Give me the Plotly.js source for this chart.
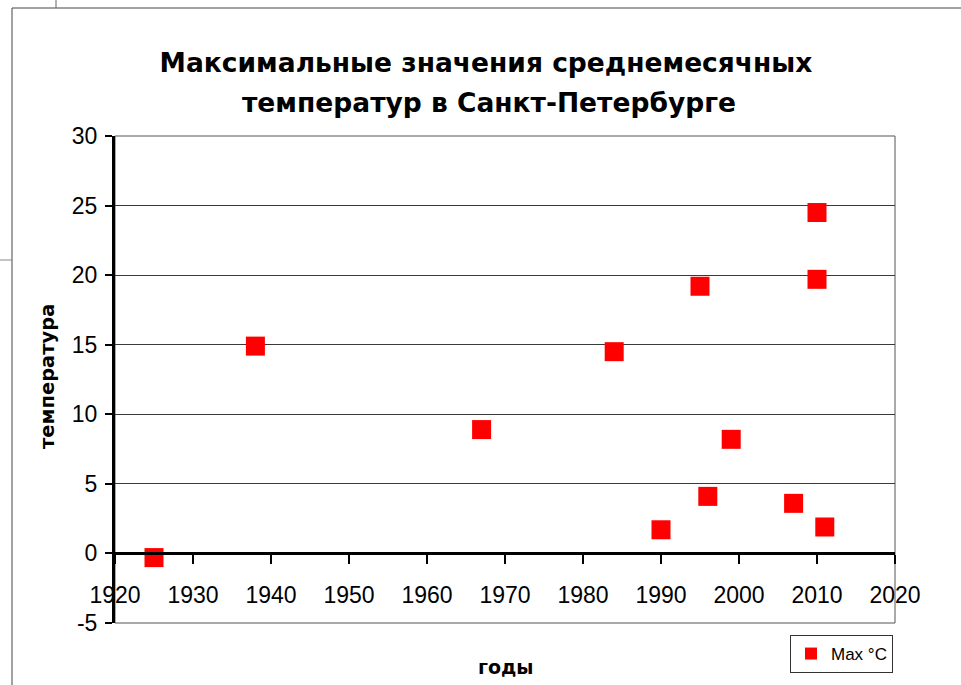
<!DOCTYPE html>
<html>
<head>
<meta charset="utf-8">
<script src="https://cdn.plot.ly/plotly-3.0.1.min.js"></script>
<style>html,body{margin:0;padding:0;background:#fff;}#chart{width:961px;height:685px;}</style>
</head>
<body>
<div id="chart"></div>
<script>
// Data
const years = [1925, 1938, 1967, 1984, 1990, 1995, 1996, 1999, 2007, 2010, 2010, 2011];
const maxTemps = [-0.3, 14.9, 8.9, 14.5, 1.7, 19.2, 4.1, 8.2, 3.6, 24.5, 19.7, 1.9];
const seriesName = 'Max °C';
const titleLines = ['Максимальные значения среднемесячных', 'температур в Санкт-Петербурге'];
const xTitle = 'годы';
const yTitle = 'температура';
const yTickVals = [-5, 0, 5, 10, 15, 20, 25, 30];
const yTickText = ['-5', '0', '5', '10', '15', '20', '25', '30'];
const xTickVals = [1920, 1930, 1940, 1950, 1960, 1970, 1980, 1990, 2000, 2010, 2020];

const trace = {
  x: years,
  y: maxTemps,
  type: 'scatter',
  mode: 'markers',
  name: seriesName,
  marker: {symbol: 'square', size: 19, color: '#ff0000'},
  showlegend: true
};

const L = 115, R = 895, T = 136, B = 623;
const W = R - L, H = B - T;
const px = v => (v - L) / W;
const py = v => (B - v) / H;
const tickFont = {size: 23, family: 'Liberation Sans, Arial, sans-serif', color: '#000'};
const boldFont = {family: 'DejaVu Sans, sans-serif', size: 26.5, color: '#000', weight: 'bold'};

const layout = {
  width: 961, height: 685,
  margin: {l: L, r: 961 - R, t: T, b: 685 - B, pad: 0},
  paper_bgcolor: '#ffffff',
  plot_bgcolor: '#ffffff',
  font: {family: 'Liberation Sans, Arial, sans-serif', color: '#000', size: 22},
  title: {
    text: titleLines[0],
    font: boldFont,
    xref: 'container', yref: 'container',
    x: 486 / 961, xanchor: 'center',
    y: 1 - 63 / 685, yanchor: 'middle'
  },
  xaxis: {
    range: [1920, 2020], tickvals: xTickVals,
    showgrid: false, zeroline: false,
    showline: true, linecolor: '#000', linewidth: 3,
    ticks: 'outside', ticklen: 9, tickwidth: 2, tickcolor: '#000',
    anchor: 'free', position: 5 / 35,
    ticklabelstandoff: 11,
    tickfont: tickFont,
    automargin: false, fixedrange: true
  },
  yaxis: {
    range: [-5, 30], tickvals: yTickVals, ticktext: yTickText,
    showgrid: true, gridcolor: '#3a3a3a', gridwidth: 1,
    zeroline: false,
    showline: true, linecolor: '#000', linewidth: 3,
    ticks: 'outside', ticklen: 7, tickwidth: 2, tickcolor: '#000',
    ticklabelstandoff: 3,
    tickfont: tickFont,
    automargin: false, fixedrange: true
  },
  legend: {
    x: px(790), y: py(635), xanchor: 'left', yanchor: 'top',
    bgcolor: '#fff', bordercolor: '#333', borderwidth: 1,
    font: {size: 17, family: 'Liberation Sans, Arial, sans-serif', color: '#000'},
    itemsizing: 'constant', itemwidth: 30,
    tracegroupgap: 0
  },
  annotations: [
    {text: titleLines[1], xref: 'paper', yref: 'paper', x: px(489), y: py(103),
     xanchor: 'center', yanchor: 'middle', showarrow: false, font: boldFont},
    {text: yTitle, xref: 'paper', yref: 'paper', x: px(47), y: py(377),
     xanchor: 'center', yanchor: 'middle', textangle: -90, showarrow: false,
     font: {family: 'DejaVu Sans, sans-serif', size: 19.5, weight: 'bold', color: '#000'}},
    {text: xTitle, xref: 'paper', yref: 'paper', x: px(506), y: py(667),
     xanchor: 'center', yanchor: 'middle', showarrow: false,
     font: {family: 'DejaVu Sans, sans-serif', size: 19, weight: 'bold', color: '#000'}}
  ],
  shapes: [
    // plot area border
    {type: 'rect', xref: 'paper', yref: 'paper', x0: 0, x1: 1, y0: 0, y1: 1,
     line: {color: '#555', width: 1}, layer: 'below'},
    // outer chart border
    {type: 'line', xref: 'paper', yref: 'paper', x0: px(12), x1: px(12), y0: py(8), y1: py(700),
     line: {color: '#444', width: 1}},
    {type: 'line', xref: 'paper', yref: 'paper', x0: px(12), x1: px(970), y0: py(8), y1: py(8),
     line: {color: '#444', width: 1}},
    // spreadsheet cell lines outside the chart
    {type: 'line', xref: 'paper', yref: 'paper', x0: px(56), x1: px(56), y0: py(-2), y1: py(8),
     line: {color: '#666', width: 1}},
    {type: 'line', xref: 'paper', yref: 'paper', x0: px(-2), x1: px(12), y0: py(260), y1: py(260),
     line: {color: '#888', width: 1}}
  ]
};

Plotly.newPlot('chart', [trace], layout, {displayModeBar: false, staticPlot: true});
</script>
</body>
</html>
